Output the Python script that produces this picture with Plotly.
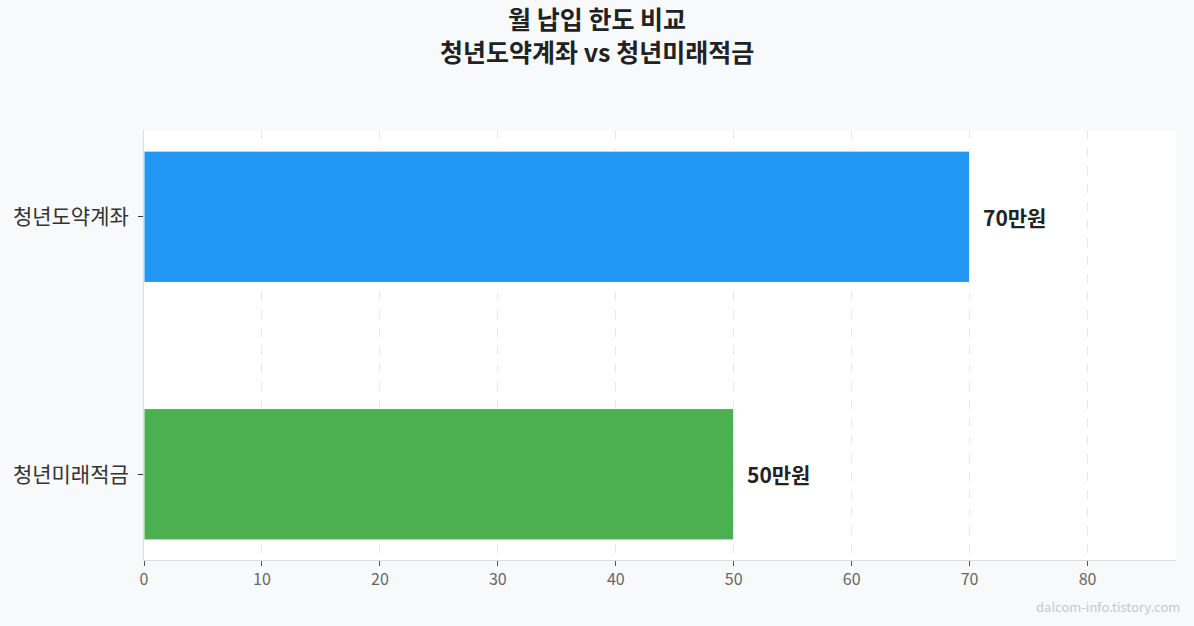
import plotly.graph_objects as go

categories = ["청년도약계좌", "청년미래적금"]
values = [70, 50]
colors = ["#2196F3", "#4CAF50"]
value_labels = ["70만원", "50만원"]
x_ticks = [0, 10, 20, 30, 40, 50, 60, 70, 80]
title_text = "<b>월 납입 한도 비교<br>청년도약계좌 vs 청년미래적금</b>"

FONT = "Noto Sans CJK KR"

fig = go.Figure()
fig.add_trace(go.Bar(
    y=categories, x=values, orientation="h",
    marker=dict(color=colors, line=dict(color="white", width=1)),
    width=0.51, hoverinfo="skip",
))

for c, v, t in zip(categories, values, value_labels):
    fig.add_annotation(x=v, y=c, text=f"<b>{t}</b>", showarrow=False,
                       xanchor="left", xshift=11,
                       font=dict(family=FONT, size=21, color="#222222"))

fig.add_annotation(xref="paper", yref="paper", x=1.006, y=-0.108,
                   xanchor="right", yanchor="middle", showarrow=False,
                   text="dalcom-info.tistory.com",
                   font=dict(family=FONT, size=13, color="#c8c8c8"))

# chart title (as annotation so both lines are placed precisely)
fig.add_annotation(xref="paper", yref="paper", x=0.4385, y=1.223,
                   xanchor="center", yanchor="middle", showarrow=False,
                   text=title_text,
                   font=dict(family=FONT, size=25, color="#222222"))

fig.update_layout(
    width=1194, height=626,
    paper_bgcolor="#f8f9fb", plot_bgcolor="#ffffff",
    margin=dict(l=144, r=18, t=130, b=66),
    showlegend=False,
    font=dict(family=FONT),
)
fig.update_xaxes(range=[0, 87.5], tickvals=x_ticks,
                 showgrid=True, gridcolor="#e8e8e8", griddash="dash", gridwidth=1,
                 showline=True, linecolor="#dddddd", linewidth=1,
                 ticks="outside", ticklen=5, tickcolor="#555555",
                 tickfont=dict(family=FONT, size=16, color="#666666"),
                 zeroline=False)
fig.update_yaxes(categoryorder="array", categoryarray=categories,
                 range=[1.333, -0.337],
                 showgrid=False, showline=True, linecolor="#dddddd", linewidth=1,
                 ticks="outside", ticklen=5, tickcolor="#333333",
                 ticklabelstandoff=5,
                 tickfont=dict(family=FONT, size=21, color="#333333"))

fig.write_html("out.html", config={"displayModeBar": False},
               post_script="document.body.style.margin='0';")
